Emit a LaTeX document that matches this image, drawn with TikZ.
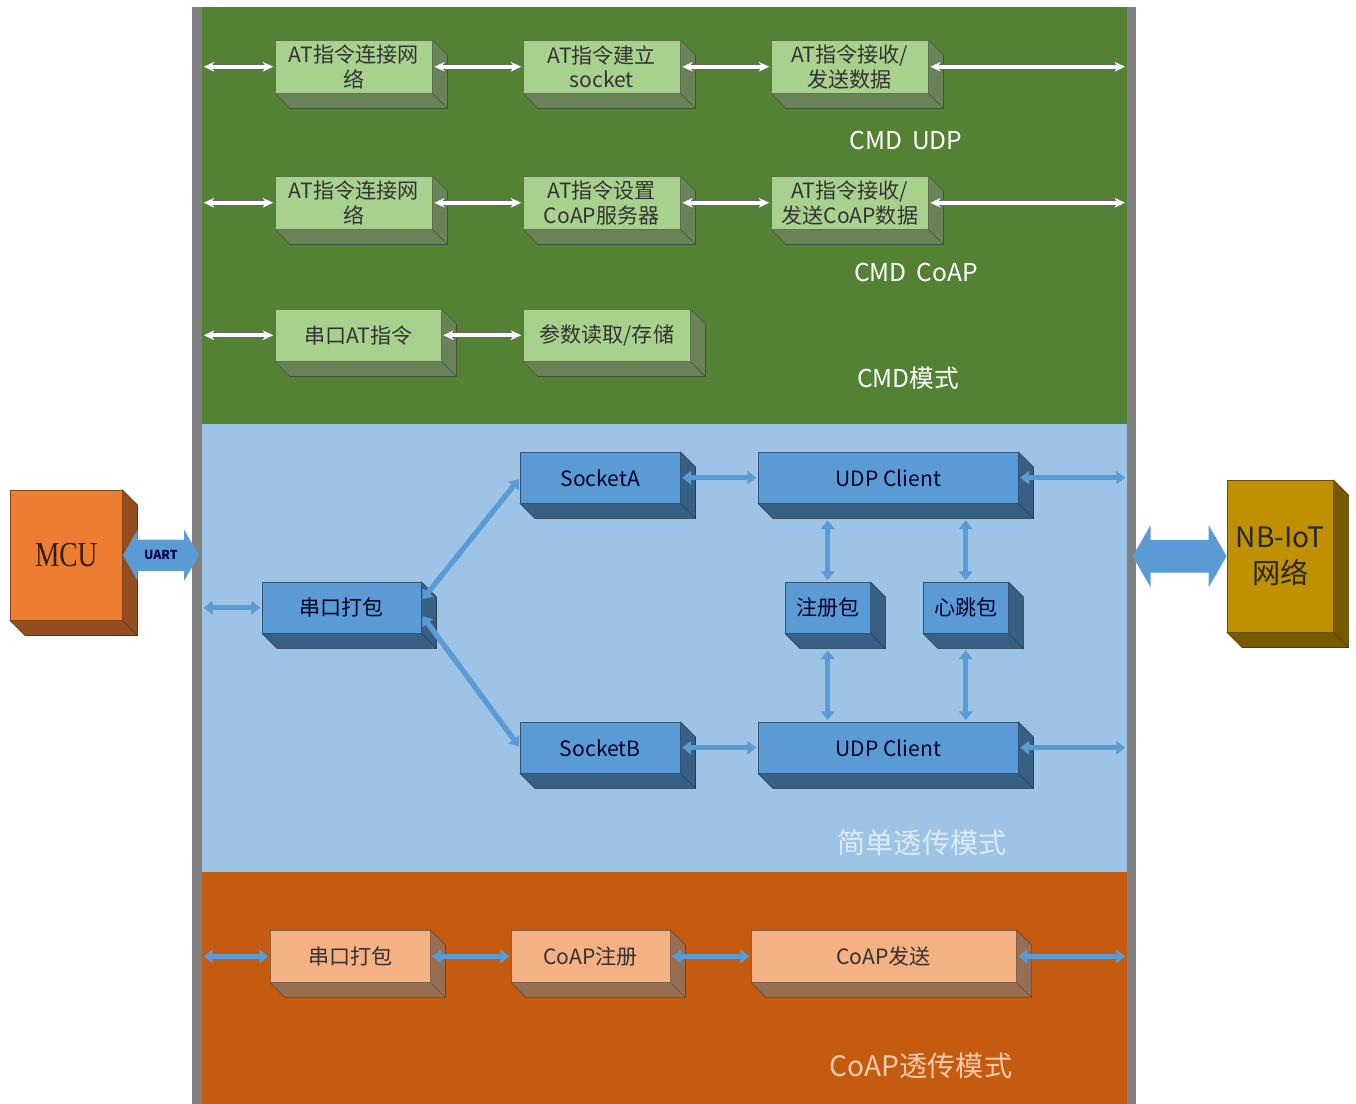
\documentclass[tikz,border=0pt]{standalone}
\usepackage{fontspec}
\setmainfont{Noto Sans CJK SC}
\newfontfamily\mcufont[FakeStretch=0.78]{Liberation Serif}
\usetikzlibrary{shapes, shapes.arrows, arrows.meta, positioning, calc}

\definecolor{framegray}{HTML}{808080}
\definecolor{cmdgreen}{HTML}{548235}
\definecolor{cmdface}{HTML}{A9D18E}
\definecolor{transblue}{HTML}{9DC3E6}
\definecolor{transface}{HTML}{5B9BD5}
\definecolor{coaporange}{HTML}{C55A11}
\definecolor{coapface}{HTML}{F4B183}
\definecolor{mcuface}{HTML}{ED7D31}
\definecolor{nbface}{HTML}{BF9000}
\definecolor{arrowblue}{HTML}{5B9BD5}
\definecolor{transtext}{HTML}{DDEBF7}
\definecolor{coaptext}{HTML}{F8CBAD}

\tikzset{area/.style={rectangle, minimum width=18.5cm, inner sep=0pt, outer sep=0pt, anchor=north west}}
\tikzset{block3d/.style={rectangle, fill=#1, draw=#1!55!black, line width=0.3pt, align=center, inner sep=1pt, anchor=north west,
  append after command={\pgfextra{
    \filldraw[fill=#1!62!black, draw=#1!40!black, line width=0.3pt]
      (\tikzlastnode.north east) -- ($(\tikzlastnode.north east)+(15,15)$)
      -- ($(\tikzlastnode.south east)+(15,15)$) -- ($(\tikzlastnode.south west)+(15,15)$)
      -- (\tikzlastnode.south west) -- (\tikzlastnode.south east) -- cycle;
    \draw[#1!40!black, line width=0.3pt] (\tikzlastnode.south east) -- ($(\tikzlastnode.south east)+(15,15)$);}}}}
\tikzset{cmd/.style={block3d=cmdface, text=black!80, minimum width=3.14cm, minimum height=1.06cm}}
\tikzset{trans/.style={block3d=transface, text=black!85!blue, minimum width=3.2cm, minimum height=1.02cm}}
\tikzset{coap/.style={block3d=coapface, text=black!80, minimum width=3.2cm, minimum height=1.04cm}}
\tikzset{white arrow/.style={{Stealth[length=6pt,width=5.5pt]}-{Stealth[length=6pt,width=5.5pt]}, draw=white, line width=2pt,
  shorten <=1pt, shorten >=1pt,
  preaction={draw=black!60, line width=3.6pt, {Stealth[length=7pt,width=7.5pt]}-{Stealth[length=7pt,width=7.5pt]}}}}
\tikzset{blue arrow/.style={{Triangle[length=5pt,width=7.5pt]}-{Triangle[length=5pt,width=7.5pt]}, draw=arrowblue, line width=3pt,
  shorten <=1pt, shorten >=1pt}}
\tikzset{fat arrow/.style={double arrow, fill=arrowblue, double arrow tip angle=120, inner xsep=0pt}}
\tikzset{modelabel/.style={text=white, font=\fontsize{14}{17}\selectfont}}

\begin{document}
\begin{tikzpicture}[x=0.02cm, y=-0.02cm, font=\fontsize{12}{14}\selectfont]
\useasboundingbox (0,0) rectangle (1356,1104);
% mode areas
\node[area, fill=cmdgreen, minimum height=8.34cm] (cmdarea) at (202,7) {};
\node[area, fill=transblue, minimum height=8.96cm] (transarea) at (202,424) {};
\node[area, fill=coaporange, minimum height=4.64cm] (coaparea) at (202,872) {};
\fill[framegray] (192,7) rectangle (202,1104);
\fill[framegray] (1127,7) rectangle (1136,1104);

% CMD mode
\node[cmd] (udpnet) at (275,40) {AT指令连接网\\络};
\node[cmd] (udpsock) at (523,40) {AT指令建立\\socket};
\node[cmd] (udpdata) at (771,40) {AT指令接收/\\发送数据};
\node[cmd] (coapnet) at (275,176) {AT指令连接网\\络};
\node[cmd] (coapserver) at (523,176) {AT指令设置\\CoAP服务器};
\node[cmd] (coapdata) at (771,176) {AT指令接收/\\发送CoAP数据};
\node[cmd, minimum width=3.32cm, minimum height=1.04cm] (serialat) at (275,309) {串口AT指令};
\node[cmd, minimum width=3.34cm, minimum height=1.04cm] (param) at (523,309) {参数读取/存储};

\draw[white arrow] (cmdarea.west |- udpnet.west) -- (udpnet.west);
\draw[white arrow] (udpnet.east) -- (udpsock.west);
\draw[white arrow] (udpsock.east) -- (udpdata.west);
\draw[white arrow] (udpdata.east) -- (cmdarea.east |- udpdata.east);
\draw[white arrow] (cmdarea.west |- coapnet.west) -- (coapnet.west);
\draw[white arrow] (coapnet.east) -- (coapserver.west);
\draw[white arrow] (coapserver.east) -- (coapdata.west);
\draw[white arrow] (coapdata.east) -- (cmdarea.east |- coapdata.east);
\draw[white arrow] (cmdarea.west |- serialat.west) -- (serialat.west);
\draw[white arrow] (serialat.east) -- (param.west);

\node[modelabel] (udplabel) at (906,140) {CMD\hspace{0.4em}UDP};
\node[modelabel] (coaplabel) at (916,272) {CMD\hspace{0.4em}CoAP};
\node[modelabel] (cmdlabel) at (908,378) {CMD模式};

% simple transparent mode
\node[trans, minimum width=3.18cm] (pack) at (262,582) {串口打包};
\node[trans] (socka) at (520,452) {SocketA};
\node[trans, minimum width=5.2cm] (udpa) at (758,452) {UDP Client};
\node[trans, minimum width=1.7cm] (regpkt) at (785,582) {注册包};
\node[trans, minimum width=1.7cm] (beatpkt) at (923,582) {心跳包};
\node[trans] (sockb) at (520,722) {SocketB};
\node[trans, minimum width=5.2cm] (udpb) at (758,722) {UDP Client};

\draw[blue arrow] (transarea.west |- pack.west) -- (pack.west);
\draw[blue arrow] ([yshift=4pt]pack.east) -- (socka.west);
\draw[blue arrow] ([yshift=-4pt]pack.east) -- (sockb.west);
\draw[blue arrow] (socka.east) -- (udpa.west);
\draw[blue arrow] (sockb.east) -- (udpb.west);
\draw[blue arrow] (udpa.east) -- (transarea.east |- udpa.east);
\draw[blue arrow] (udpb.east) -- (transarea.east |- udpb.east);
\draw[blue arrow] ($(regpkt.north |- udpa.south)+(0,15)$) -- (regpkt.north);
\draw[blue arrow] ($(regpkt.south)+(0,15)$) -- (regpkt.south |- udpb.north);
\draw[blue arrow] ($(beatpkt.north |- udpa.south)+(0,15)$) -- (beatpkt.north);
\draw[blue arrow] ($(beatpkt.south)+(0,15)$) -- (beatpkt.south |- udpb.north);

\node[modelabel, text=transtext, font=\fontsize{16}{19}\selectfont] (translabel) at (922,843) {简单透传模式};

% CoAP transparent mode
\node[coap] (coappack) at (270,930) {串口打包};
\node[coap, minimum width=3.18cm] (coapreg) at (511,930) {CoAP注册};
\node[coap, minimum width=5.3cm] (coapsend) at (751,930) {CoAP发送};

\draw[blue arrow] (coaparea.west |- coappack.west) -- (coappack.west);
\draw[blue arrow] (coappack.east) -- (coapreg.west);
\draw[blue arrow] (coapreg.east) -- (coapsend.west);
\draw[blue arrow] (coapsend.east) -- (coaparea.east |- coapsend.east);

\node[modelabel, text=coaptext, font=\fontsize{16}{19}\selectfont] (coapmodelabel) at (921,1066) {CoAP透传模式};

% MCU and NB-IoT
\node[block3d=mcuface, minimum width=2.24cm, minimum height=2.6cm, text=black!75!brown,
  font=\mcufont\fontsize{20}{22}\selectfont] (mcu) at (10,490) {MCU};
\node[block3d=nbface, minimum width=2.12cm, minimum height=3.04cm, text=black!85,
  font=\fontsize{16}{21}\selectfont] (nbiot) at (1227,480) {NB-IoT\\网络};
\node[fat arrow, right=0pt of mcu, minimum height=1.52cm, inner ysep=6pt, double arrow head extend=0.2cm,
  text=black!70!blue, font=\fontsize{7}{8}\selectfont\bfseries] (uart) {UART};
\node[fat arrow, left=0pt of nbiot, minimum height=1.88cm, inner ysep=0.32cm, double arrow head extend=0.3cm] (nblink) {};
\end{tikzpicture}
\end{document}
